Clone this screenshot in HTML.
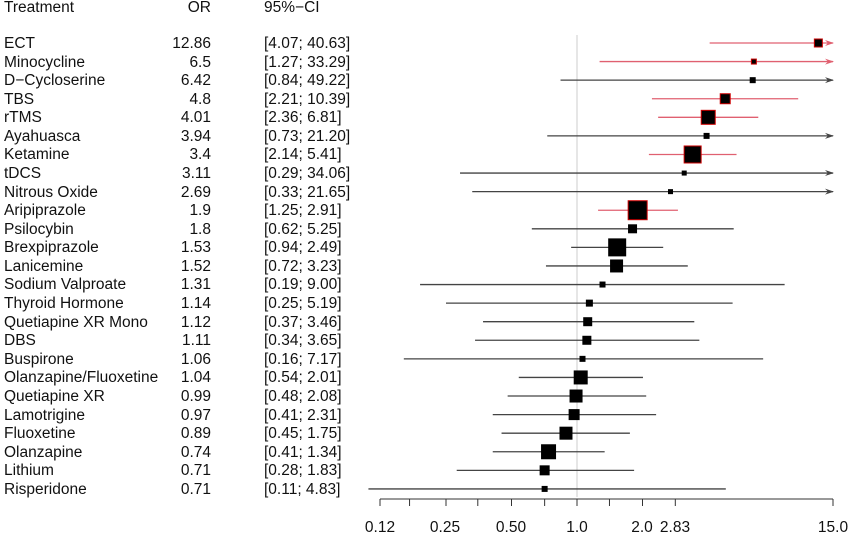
<!DOCTYPE html>
<html><head><meta charset="utf-8"><style>
body{margin:0;background:#fff;}
svg text{font-family:"Liberation Sans",sans-serif;font-size:15.5px;fill:#111;}
</style></head><body>
<svg id="s" width="849" height="535" xmlns="http://www.w3.org/2000/svg">
<line x1="577" y1="35" x2="577" y2="497" stroke="#ccc" stroke-width="1"/>
<g id="g"></g>
<text x="4" y="12">Treatment</text><text x="211" y="12" text-anchor="end">OR</text><text x="264" y="12">95%−CI</text>
<g id="t">
<text x="4" y="48">ECT</text><text x="211" y="48" text-anchor="end">12.86</text><text x="264" y="48">[4.07; 40.63]</text>
<text x="4" y="67">Minocycline</text><text x="211" y="67" text-anchor="end">6.5</text><text x="264" y="67">[1.27; 33.29]</text>
<text x="4" y="85">D−Cycloserine</text><text x="211" y="85" text-anchor="end">6.42</text><text x="264" y="85">[0.84; 49.22]</text>
<text x="4" y="104">TBS</text><text x="211" y="104" text-anchor="end">4.8</text><text x="264" y="104">[2.21; 10.39]</text>
<text x="4" y="122">rTMS</text><text x="211" y="122" text-anchor="end">4.01</text><text x="264" y="122">[2.36; 6.81]</text>
<text x="4" y="141">Ayahuasca</text><text x="211" y="141" text-anchor="end">3.94</text><text x="264" y="141">[0.73; 21.20]</text>
<text x="4" y="159">Ketamine</text><text x="211" y="159" text-anchor="end">3.4</text><text x="264" y="159">[2.14; 5.41]</text>
<text x="4" y="178">tDCS</text><text x="211" y="178" text-anchor="end">3.11</text><text x="264" y="178">[0.29; 34.06]</text>
<text x="4" y="197">Nitrous Oxide</text><text x="211" y="197" text-anchor="end">2.69</text><text x="264" y="197">[0.33; 21.65]</text>
<text x="4" y="215">Aripiprazole</text><text x="211" y="215" text-anchor="end">1.9</text><text x="264" y="215">[1.25; 2.91]</text>
<text x="4" y="234">Psilocybin</text><text x="211" y="234" text-anchor="end">1.8</text><text x="264" y="234">[0.62; 5.25]</text>
<text x="4" y="252">Brexpiprazole</text><text x="211" y="252" text-anchor="end">1.53</text><text x="264" y="252">[0.94; 2.49]</text>
<text x="4" y="271">Lanicemine</text><text x="211" y="271" text-anchor="end">1.52</text><text x="264" y="271">[0.72; 3.23]</text>
<text x="4" y="289">Sodium Valproate</text><text x="211" y="289" text-anchor="end">1.31</text><text x="264" y="289">[0.19; 9.00]</text>
<text x="4" y="308">Thyroid Hormone</text><text x="211" y="308" text-anchor="end">1.14</text><text x="264" y="308">[0.25; 5.19]</text>
<text x="4" y="327">Quetiapine XR Mono</text><text x="211" y="327" text-anchor="end">1.12</text><text x="264" y="327">[0.37; 3.46]</text>
<text x="4" y="345">DBS</text><text x="211" y="345" text-anchor="end">1.11</text><text x="264" y="345">[0.34; 3.65]</text>
<text x="4" y="364">Buspirone</text><text x="211" y="364" text-anchor="end">1.06</text><text x="264" y="364">[0.16; 7.17]</text>
<text x="4" y="382">Olanzapine/Fluoxetine</text><text x="211" y="382" text-anchor="end">1.04</text><text x="264" y="382">[0.54; 2.01]</text>
<text x="4" y="401">Quetiapine XR</text><text x="211" y="401" text-anchor="end">0.99</text><text x="264" y="401">[0.48; 2.08]</text>
<text x="4" y="420">Lamotrigine</text><text x="211" y="420" text-anchor="end">0.97</text><text x="264" y="420">[0.41; 2.31]</text>
<text x="4" y="438">Fluoxetine</text><text x="211" y="438" text-anchor="end">0.89</text><text x="264" y="438">[0.45; 1.75]</text>
<text x="4" y="457">Olanzapine</text><text x="211" y="457" text-anchor="end">0.74</text><text x="264" y="457">[0.41; 1.34]</text>
<text x="4" y="475">Lithium</text><text x="211" y="475" text-anchor="end">0.71</text><text x="264" y="475">[0.28; 1.83]</text>
<text x="4" y="494">Risperidone</text><text x="211" y="494" text-anchor="end">0.71</text><text x="264" y="494">[0.11; 4.83]</text>
</g>
<line x1="380" y1="499" x2="833" y2="499" stroke="#333"/>
<g id="ticks"></g>
<text x="380" y="532" text-anchor="middle">0.12</text>
<text x="445" y="532" text-anchor="middle">0.25</text>
<text x="511" y="532" text-anchor="middle">0.50</text>
<text x="577" y="532" text-anchor="middle">1.0</text>
<text x="642" y="532" text-anchor="middle">2.0</text>
<text x="675" y="532" text-anchor="middle">2.83</text>
<text x="833" y="532" text-anchor="middle">15.0</text>
</svg>
<script>
var d=[[12.86,4.07,40.63,8,1],[6.5,1.27,33.29,5,1],[6.42,.84,49.22,5,0],[4.8,2.21,10.39,10,1],[4.01,2.36,6.81,14,1],[3.94,.73,21.2,5,0],[3.4,2.14,5.41,17,1],[3.11,.29,34.06,4,0],[2.69,.33,21.65,4,0],[1.9,1.25,2.91,19,1],[1.8,.62,5.25,8,0],[1.53,.94,2.49,17,0],[1.52,.72,3.23,12,0],[1.31,.19,9,5,0],[1.14,.25,5.19,6,0],[1.12,.37,3.46,8,0],[1.11,.34,3.65,8,0],[1.06,.16,7.17,5,0],[1.04,.54,2.01,13,0],[.99,.48,2.08,12,0],[.97,.41,2.31,10,0],[.89,.45,1.75,12,0],[.74,.41,1.34,14,0],[.71,.28,1.83,9,0],[.71,.11,4.83,5,0]];
function X(v){return 577+Math.log2(v)*65.5;}
var h='';
d.forEach(function(r,i){var y=43+i*18.58,c=r[4]?'#e06070':'#444',x1=X(r[1]),x2=Math.min(X(r[2]),833),xm=X(r[0]),s=r[3];
h+='<line x1="'+x1+'" y1="'+y+'" x2="'+x2+'" y2="'+y+'" stroke="'+c+'" stroke-width="1.3"/>';
if(r[2]>15)h+='<polygon points="825,'+(y-3)+' 834,'+y+' 825,'+(y+3)+' 828,'+y+'" fill="'+c+'"/>';
h+='<rect x="'+(xm-s/2)+'" y="'+(y-s/2)+'" width="'+s+'" height="'+s+'" fill="#000" stroke="'+(r[4]?'#c00':'#000')+'" stroke-width="1"/>';});
document.getElementById('g').innerHTML=h;
var t='';[.12,.17,.25,.35,.5,.71,1,1.41,2,2.83,15].forEach(function(v){var x=v==.12?380:(v==15?833:X(v));t+='<line x1="'+x+'" y1="499" x2="'+x+'" y2="506" stroke="#333"/>';});
document.getElementById('ticks').innerHTML=t;
</script>
</body></html>
